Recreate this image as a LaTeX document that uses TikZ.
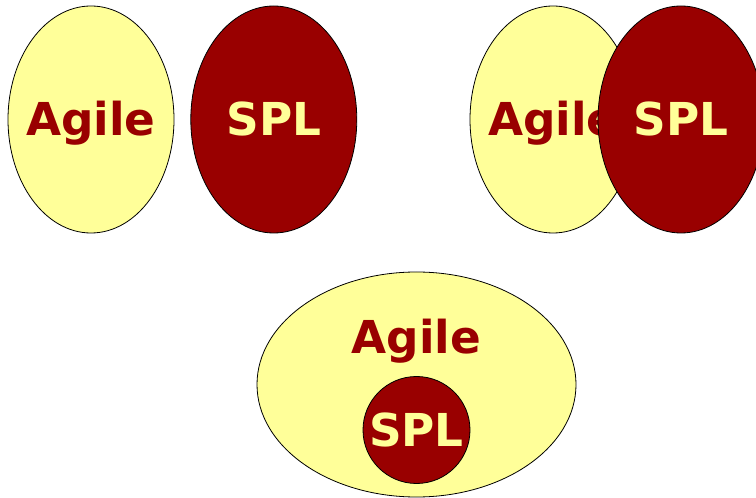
\documentclass[tikz,border=0pt]{standalone}
\usepackage{fontspec}
\setmainfont{DejaVu Sans}
\usepackage{tikz}
\usetikzlibrary{positioning, shapes.geometric}
\usepackage{xcolor}
\definecolor{PaleYellow}{HTML}{FFFF99}
\definecolor{DarkRed}{HTML}{990000}
\tikzset{%
  blob/.style={%
    ellipse,
    inner sep=0pt,
    line width=0.6pt,
    draw=black,
    minimum width=124.5pt,
    minimum height=170.25pt%
  },
  agile/.style={%
    blob,
    fill=PaleYellow%
  },
  spl/.style={%
    blob,
    fill=DarkRed%
  },
  word/.style={%
    text=DarkRed,
    text height=24.5pt,
    text depth=0pt,
    inner sep=0pt,
    font={\fontsize{34}{40}\selectfont\bfseries}%
  },
  lightword/.style={%
    word,
    text=PaleYellow%
  }
}

\begin{document}
\begin{tikzpicture}[x=0.75pt, y=-0.75pt]
    \useasboundingbox (0, 0) rectangle (756, 498);

    % side by side
    \node [agile] (AgileA) at (91, 119.5) {};
    \node [word] (AgileAText) at (AgileA.center) {Agile};
    \node [spl, right=16 of AgileA] (SplA) {};
    \node [lightword] (SplAText) at (SplA.center) {SPL};

    % overlapping
    \node [agile] (AgileB) at (553, 119.5) {};
    \node [word] (AgileBText) at (AgileB.center) {Agile};
    \node [spl] (SplB) at (681, 119.5) {};
    \node [lightword] (SplBText) at (SplB.center) {SPL};

    % one inside the other
    \node [agile, minimum width=239.25pt, minimum height=168.75pt]
      (AgileC) at (416.5, 384.5) {};
    \node [word] (AgileCText) at (416.5, 337) {Agile};
    \node [spl, circle, minimum size=80.25pt] (SplC) at (416.5, 430) {};
    \node [lightword] (SplCText) at (SplC.center) {SPL};
  \end{tikzpicture}
\end{document}
